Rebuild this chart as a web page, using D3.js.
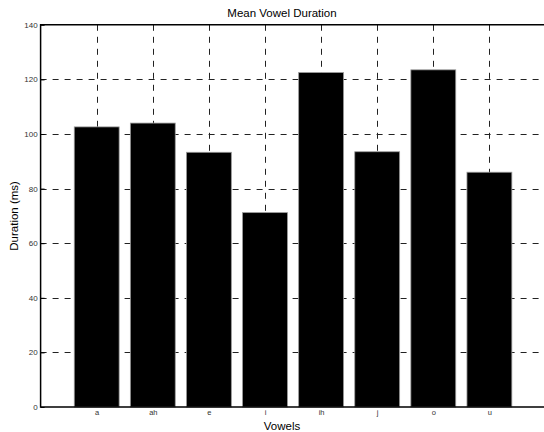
<!DOCTYPE html>
<html>
<head>
<meta charset="utf-8">
<script src="https://cdn.jsdelivr.net/npm/d3@7"></script>
<style>
	body { margin: 0; background: #fff; }
	text { font-family: "Liberation Sans", Arial, sans-serif; }
</style>
</head>
<body>
<div id="chart"></div>
<script>
const vowels = ["a", "ah", "e", "i", "ih", "j", "o", "u"];
const durations = [102.6, 104.0, 93.3, 71.2, 122.5, 93.5, 123.5, 86.0];
const yTicks = [0, 20, 40, 60, 80, 100, 120, 140];

const width = 544;
const height = 432;
const marginLeft = 40.6;
const marginTop = 24.8;
const plotBottom = 407;

const svg = d3
	.select("#chart")
	.append("svg")
	.attr("width", width)
	.attr("height", height);

// positions 1..8 on a [0, 9] axis, like matlab's bar()
const xScale = d3.scaleLinear().domain([0, 9]).range([marginLeft, 545.5]);
const yScale = d3.scaleLinear().domain([0, 140]).range([plotBottom, marginTop]);
const barWidth = xScale(0.8) - xScale(0);

const grid = svg.append("g").attr("stroke", "#222").attr("stroke-width", 1)
	.attr("stroke-dasharray", "6,6");

grid
	.selectAll("line.h")
	.data(yTicks.filter((d) => d > 0 && d < 140))
	.enter()
	.append("line")
	.attr("x1", marginLeft)
	.attr("x2", width)
	.attr("y1", (d) => Math.round(yScale(d)) + 0.5)
	.attr("y2", (d) => Math.round(yScale(d)) + 0.5);

grid
	.selectAll("line.v")
	.data(vowels)
	.enter()
	.append("line")
	.attr("x1", (d, i) => Math.round(xScale(i + 1)) + 0.5)
	.attr("x2", (d, i) => Math.round(xScale(i + 1)) + 0.5)
	.attr("y1", marginTop)
	.attr("y2", plotBottom);

svg
	.append("g")
	.selectAll("rect")
	.data(durations)
	.enter()
	.append("rect")
	.attr("x", (d, i) => xScale(i + 1) - barWidth / 2)
	.attr("width", barWidth)
	.attr("y", (d) => yScale(d))
	.attr("height", (d) => plotBottom - yScale(d))
	.attr("fill", "#000")
	.attr("stroke", "#999")
	.attr("stroke-width", 0.8);

const yAxis = (g) =>
	g
		.call(d3.axisLeft(yScale).tickValues(yTicks).tickSize(-4).tickPadding(3))
		.call((g) => g.select(".domain").remove())
		.call((g) => g.selectAll("line").attr("stroke", "#000"))
		.selectAll("text")
		.attr("x", -3)
		.style("font-size", "8px")
		.style("fill", "#333");

const xAxis = (g) =>
	g
		.call(
			d3
				.axisBottom(xScale)
				.tickValues(d3.range(1, vowels.length + 1))
				.tickFormat((d) => vowels[d - 1])
				.tickSize(0)
				.tickPadding(3)
		)
		.call((g) => g.select(".domain").remove())
		.selectAll("text")
		.style("font-size", "7.5px")
		.style("fill", "#333");

svg.append("g").attr("transform", `translate(${marginLeft},0)`).call(yAxis);
svg.append("g").attr("transform", `translate(0,${plotBottom})`).call(xAxis);

// axes box (right side falls off the canvas)
svg
	.append("path")
	.attr("d", `M${width},${marginTop}H${marginLeft}V${plotBottom}H${width}`)
	.attr("fill", "none")
	.attr("stroke", "#000")
	.attr("stroke-width", 1.5);

svg
	.append("text")
	.attr("x", 282)
	.attr("y", 17)
	.attr("text-anchor", "middle")
	.style("font-size", "11.5px")
	.text("Mean Vowel Duration");

svg
	.append("text")
	.attr("x", 282)
	.attr("y", 430)
	.attr("text-anchor", "middle")
	.style("font-size", "11.5px")
	.text("Vowels");

svg
	.append("text")
	.attr("transform", `translate(18,${(marginTop + plotBottom) / 2}) rotate(-90)`)
	.attr("text-anchor", "middle")
	.style("font-size", "11.5px")
	.text("Duration (ms)");
</script>
</body>
</html>
